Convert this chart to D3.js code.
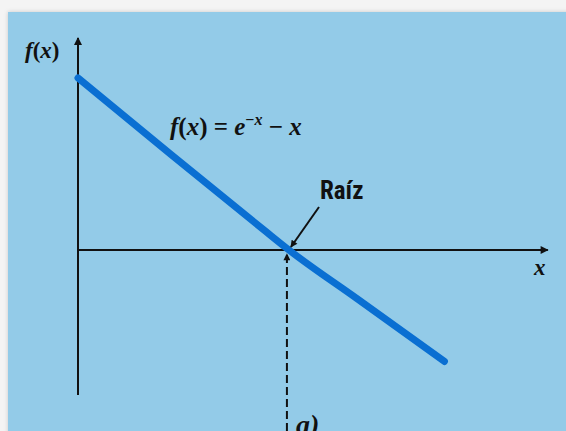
<!DOCTYPE html>
<html>
<head>
<meta charset="utf-8">
<script src="https://cdn.jsdelivr.net/npm/d3@7"></script>
<style>
  html, body { margin: 0; padding: 0; background: #f4f4f4; }
  svg { display: block; }
</style>
</head>
<body>
<div id="chart"></div>
<script>
// Curve samples of f(x) = e^-x - x
const curveX = [0, 0.25, 0.5, 0.567, 0.75, 0.985];
const curveY = [1, 0.555, 0.116, 0, -0.283, -0.648];
const rootX = 0.567;
// Axis extents in data units
const xAxisEnd = 1.263;
const yAxisTop = 1.233;
const yAxisBottom = -0.843;

const W = 566, H = 431;

const svg = d3.select("#chart").append("svg")
    .attr("width", W)
    .attr("height", H);

// soft shadow for the panel edge
const defs = svg.append("defs");
const shadow = defs.append("filter").attr("id", "shadow")
    .attr("x", "-5%").attr("y", "-5%").attr("width", "110%").attr("height", "110%");
shadow.append("feDropShadow").attr("dx", 0).attr("dy", 0)
    .attr("stdDeviation", 2).attr("flood-color", "#000").attr("flood-opacity", 0.18);

// arrow heads
function marker(id, w, h) {
    defs.append("marker")
        .attr("id", id)
        .attr("viewBox", "0 0 10 10")
        .attr("refX", 9).attr("refY", 5)
        .attr("markerWidth", w).attr("markerHeight", h)
        .attr("markerUnits", "userSpaceOnUse")
        .attr("orient", "auto")
        .append("path")
        .attr("d", "M0,0 L10,5 L0,10 Z")
        .attr("fill", "#111");
}
marker("arrow", 10, 7);
marker("arrowBig", 13, 8);

// panel
svg.append("rect")
    .attr("x", 8).attr("y", 12)
    .attr("width", W).attr("height", H)
    .attr("fill", "#93cbe8")
    .attr("filter", "url(#shadow)");

// scales
const x = d3.scaleLinear().domain([0, 1]).range([78, 450]);
const y = d3.scaleLinear().domain([0, 1]).range([250, 78]);

// y axis
svg.append("line")
    .attr("x1", x(0)).attr("x2", x(0))
    .attr("y1", y(yAxisBottom)).attr("y2", y(yAxisTop))
    .attr("stroke", "#111").attr("stroke-width", 2)
    .attr("marker-end", "url(#arrowBig)");

// x axis
svg.append("line")
    .attr("x1", x(0)).attr("x2", x(xAxisEnd))
    .attr("y1", y(0)).attr("y2", y(0))
    .attr("stroke", "#111").attr("stroke-width", 2)
    .attr("marker-end", "url(#arrowBig)");

// dashed drop line from the root
svg.append("line")
    .attr("x1", x(rootX) - 2).attr("x2", x(rootX) - 2)
    .attr("y1", H).attr("y2", y(0) + 4)
    .attr("stroke", "#111").attr("stroke-width", 2)
    .attr("stroke-dasharray", "8,4")
    .attr("marker-end", "url(#arrow)");

// the curve
const pts = curveX.map((d, i) => [d, curveY[i]]);
svg.append("path")
    .datum(pts)
    .attr("d", d3.line().x(d => x(d[0])).y(d => y(d[1])).curve(d3.curveMonotoneX))
    .attr("fill", "none")
    .attr("stroke", "#0a6fd2")
    .attr("stroke-width", 7)
    .attr("stroke-linecap", "round");

// arrow to root
svg.append("line")
    .attr("x1", 319).attr("y1", 207)
    .attr("x2", x(rootX) + 2).attr("y2", y(0) - 3)
    .attr("stroke", "#111").attr("stroke-width", 2)
    .attr("marker-end", "url(#arrow)");

const serif = "'Liberation Serif', 'DejaVu Serif', serif";

// labels
const fx = svg.append("text")
    .attr("x", 25).attr("y", 58)
    .attr("font-family", serif).attr("font-weight", "bold")
    .attr("font-size", 23).attr("fill", "#111");
fx.append("tspan").attr("font-style", "italic").text("f");
fx.append("tspan").text("(");
fx.append("tspan").attr("font-style", "italic").text("x");
fx.append("tspan").text(")");

const eq = svg.append("text")
    .attr("x", 170).attr("y", 135)
    .attr("font-family", serif).attr("font-weight", "bold")
    .attr("font-size", 25).attr("fill", "#111");
eq.append("tspan").attr("font-style", "italic").text("f");
eq.append("tspan").text("(");
eq.append("tspan").attr("font-style", "italic").text("x");
eq.append("tspan").text(") = ");
eq.append("tspan").attr("font-style", "italic").text("e");
eq.append("tspan").attr("font-size", 16).attr("dy", -10).text("\u2212");
eq.append("tspan").attr("font-size", 16).attr("font-style", "italic").text("x");
eq.append("tspan").attr("dy", 10).text(" \u2212 ");
eq.append("tspan").attr("font-style", "italic").text("x");

svg.append("text")
    .attr("x", 320).attr("y", 199)
    .attr("font-family", "'Liberation Sans Narrow', 'Roboto Condensed', 'Liberation Sans', sans-serif")
    .attr("font-weight", "bold")
    .attr("font-size", 25).attr("fill", "#111")
    .text("Raíz");

svg.append("text")
    .attr("x", 534).attr("y", 275)
    .attr("font-family", serif).attr("font-weight", "bold").attr("font-style", "italic")
    .attr("font-size", 23).attr("fill", "#111")
    .text("x");

svg.append("text")
    .attr("x", 296).attr("y", 434)
    .attr("font-family", serif).attr("font-weight", "bold").attr("font-style", "italic")
    .attr("font-size", 28).attr("fill", "#111")
    .text("a)");
</script>
</body>
</html>
